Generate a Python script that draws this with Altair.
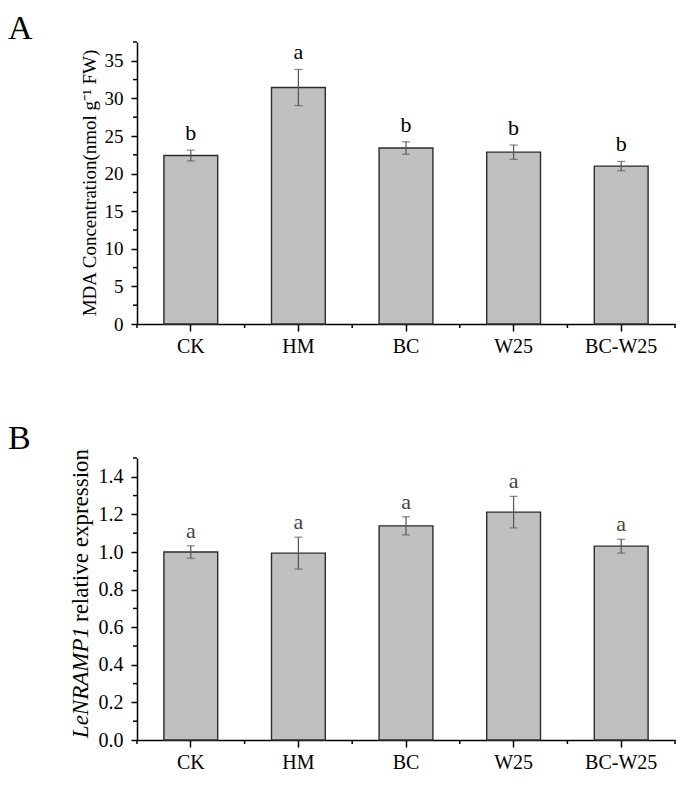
import altair as alt
import pandas as pd

# ---------------- data ----------------
groups = ["CK", "HM", "BC", "W25", "BC-W25"]

mda_mean = [22.4, 31.45, 23.4, 22.85, 21.0]
mda_err = [0.72, 2.4, 0.82, 0.95, 0.62]
mda_sig = ["b", "a", "b", "b", "b"]
mda_major = [0, 5, 10, 15, 20, 25, 30, 35]
mda_minor = [2.5, 7.5, 12.5, 17.5, 22.5, 27.5, 32.5, 37.5]

nramp_mean = [1.0, 0.994, 1.139, 1.212, 1.031]
nramp_err = [0.033, 0.085, 0.048, 0.084, 0.037]
nramp_sig = ["a", "a", "a", "a", "a"]
nramp_major = [0.0, 0.2, 0.4, 0.6, 0.8, 1.0, 1.2, 1.4]
nramp_minor = [0.1, 0.3, 0.5, 0.7, 0.9, 1.1, 1.3, 1.5]

FONT = "Liberation Serif"
W = 538
H_A = 282
H_B = 282


def panel(mean, err, sig, ymax, major, minor, fmt, label_size, letter, letter_y,
          title_layers, sig_color, sig_dy, H):
    df = pd.DataFrame({
        "cat": groups,
        "mean": mean,
        "lo": [m - e for m, e in zip(mean, err)],
        "hi": [m + e for m, e in zip(mean, err)],
        "sig": sig,
    })
    xscale = alt.Scale(domain=groups, paddingInner=0, paddingOuter=0)
    yscale = alt.Scale(domain=[0, ymax], nice=False, zero=True)

    xaxis = alt.Axis(title=None, labelAngle=0, labelFont=FONT, labelFontSize=20,
                     labelColor="black", tickSize=7, tickWidth=1.5, tickColor="black",
                     domainColor="black", domainWidth=1.5, labelPadding=5, grid=False)
    yaxis = alt.Axis(title=None, values=major, format=fmt, labelFont=FONT,
                     labelFontSize=label_size, labelColor="black", tickSize=6,
                     tickWidth=1.5, tickColor="black", domainColor="black",
                     domainWidth=1.5, labelPadding=8, grid=False)

    X = lambda **kw: alt.X("cat:N", scale=xscale, axis=xaxis, sort=groups, **kw)
    Y = lambda f: alt.Y(f, scale=yscale, axis=yaxis)

    base = alt.Chart(df)
    bars = base.mark_bar(width=alt.RelativeBandSize(0.5), color="#c0c0c0",
                         stroke="#2b2b2b", strokeWidth=1.4).encode(
        x=X(), y=Y("mean:Q"))
    err_rule = base.mark_rule(color="#555555", strokeWidth=1.2).encode(
        x=X(), y=Y("lo:Q"), y2="hi:Q")
    cap_lo = base.mark_tick(color="#555555", size=8, thickness=1.2).encode(
        x=X(), y=Y("lo:Q"))
    cap_hi = base.mark_tick(color="#555555", size=8, thickness=1.2).encode(
        x=X(), y=Y("hi:Q"))
    letters = base.mark_text(font=FONT, fontSize=22, baseline="bottom", dy=sig_dy,
                             color=sig_color).encode(
        x=X(), y=Y("hi:Q"), text="sig:N")

    minor_y = alt.Chart(pd.DataFrame({"v": minor})).mark_rule(
        color="black", strokeWidth=1.5).encode(
        y=Y("v:Q"), x=alt.value(-4), x2=alt.value(0))
    minor_x = alt.Chart(pd.DataFrame({"cat": groups})).mark_rule(
        color="black", strokeWidth=1.5).encode(
        x=X(bandPosition=0), y=alt.value(H), y2=alt.value(H + 4))
    minor_x_end = alt.Chart(pd.DataFrame({"cat": groups[-1:]})).mark_rule(
        color="black", strokeWidth=1.5).encode(
        x=X(bandPosition=1), y=alt.value(H), y2=alt.value(H + 4))

    letter_mark = alt.Chart(pd.DataFrame({"t": [letter]})).mark_text(
        font=FONT, fontSize=34, align="left", baseline="top", color="black").encode(
        x=alt.value(-129), y=alt.value(letter_y), text="t:N")

    layers = [bars, err_rule, cap_lo, cap_hi, letters, minor_y, minor_x,
              minor_x_end, letter_mark] + title_layers
    return alt.layer(*layers).properties(width=W, height=H)


# y-axis titles
title_a = alt.Chart(pd.DataFrame({"t": ["MDA Concentration(nmol g\u207b\u00b9 FW)"]})).mark_text(
    font=FONT, fontSize=19, angle=270, align="center", baseline="alphabetic",
    color="black").encode(x=alt.value(-41), y=alt.value(H_A / 2), text="t:N")

title_b1 = alt.Chart(pd.DataFrame({"t": ["LeNRAMP1"]})).mark_text(
    font=FONT, fontSize=23, fontStyle="italic", angle=270, align="right",
    baseline="alphabetic", color="black").encode(
    x=alt.value(-49), y=alt.value(H_B / 2 + 28), text="t:N")
title_b2 = alt.Chart(pd.DataFrame({"t": ["relative expression"]})).mark_text(
    font=FONT, fontSize=23, angle=270, align="left",
    baseline="alphabetic", color="black").encode(
    x=alt.value(-49), y=alt.value(H_B / 2 + 23), text="t:N")

chart_a = panel(mda_mean, mda_err, mda_sig, 37.5, mda_major, mda_minor, "d", 19,
                "A", -30, [title_a], "black", -5, H_A)
chart_b = panel(nramp_mean, nramp_err, nramp_sig, 1.5, nramp_major, nramp_minor, ".1f", 20,
                "B", -36, [title_b1, title_b2], "#444444", -3, H_B)

chart = alt.vconcat(chart_a, chart_b, spacing=66).configure_view(
    stroke=None).properties(padding={"top": 4, "left": 0, "right": 0, "bottom": 0})

chart.save("out.html", embed_options={"renderer": "svg", "actions": False})
